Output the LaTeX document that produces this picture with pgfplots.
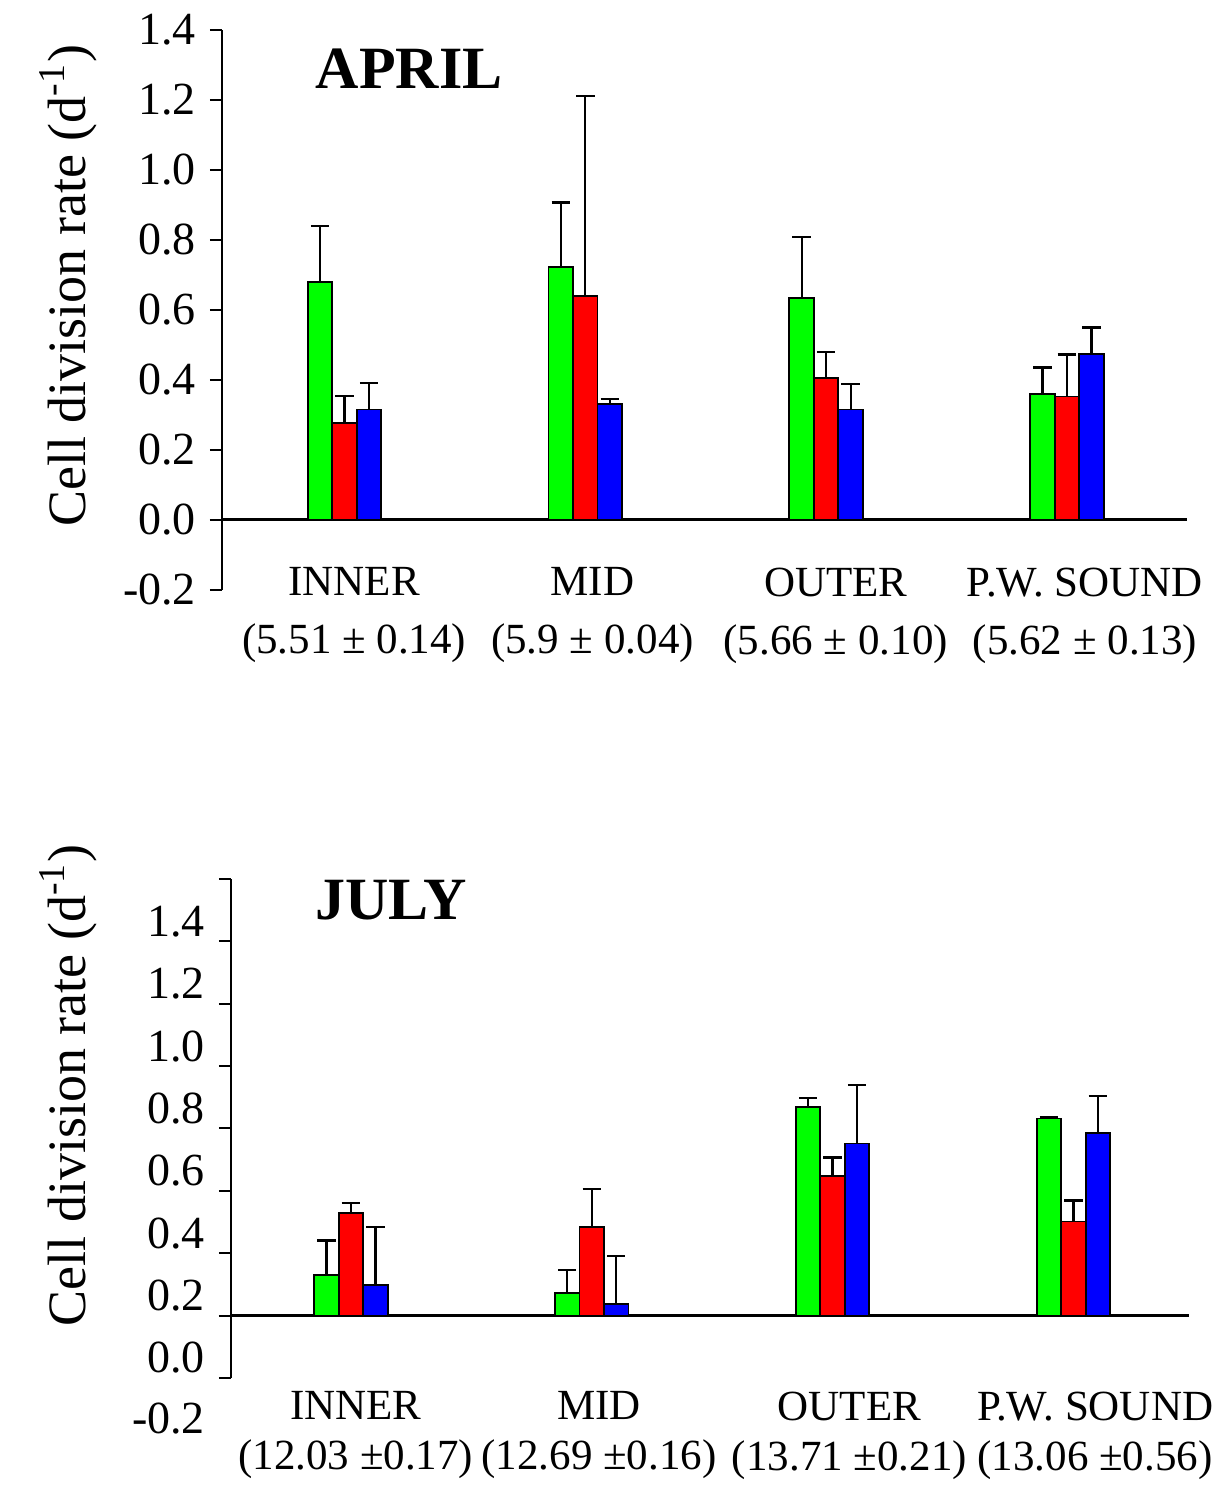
\documentclass[border=0pt]{standalone}
\usepackage{fontspec}
\setmainfont{Liberation Serif}
\usepackage{pgfplots}
\pgfplotsset{compat=1.18}

\definecolor{bgreen}{RGB}{0,255,0}
\definecolor{bred}{RGB}{255,0,0}
\definecolor{bblue}{RGB}{0,0,255}

\newcommand{\tickfont}{\fontsize{11.5bp}{13bp}\selectfont}

\pgfplotsset{
  panel/.style={
    scale only axis, anchor=south west, clip=false,
    axis y line*=left, axis x line*=bottom,
    x axis line style={draw=none},
    y axis line style={line width=0.5bp},
    ybar=0pt, bar width=6.125bp,
    ymin=-0.2, ymax=1.4,
    ytick={-0.2,0,0.2,0.4,0.6,0.8,1.0,1.2,1.4},
    ytick align=outside, major tick length=3bp,
    ytick style={line width=0.5bp, black},
    xtick style={draw=none},
    yticklabel style={font=\tickfont},
    extra y ticks={0}, extra y tick labels={},
    extra y tick style={ymajorgrids=true,
      major grid style={black, line width=0.6bp}},
    ylabel={Cell division rate (d\textsuperscript{-1})},
    every axis plot/.append style={draw=black, line width=0.45bp},
    error bars/y dir=plus, error bars/y explicit,
    error bars/error bar style={line width=0.55bp, black},
    error bars/error mark options={rotate=90, mark size=2.3bp,
      line width=0.55bp, black},
  }
}

\begin{document}
\begin{tikzpicture}
\path[use as bounding box] (0,0) rectangle (306.25bp,371.5bp);

% ---- APRIL ----
\begin{axis}[panel,
  at={(55.5bp,224.08bp)}, width=241.25bp, height=140bp,
  xmin=-0.5087, xmax=3.4987,
  yticklabels={-0.2,0.0,0.2,0.4,0.6,0.8,1.0,1.2,1.4},
  xtick={0.04,1.03,2.04,3.075},
  xticklabels={{INNER\\(5.51 ± 0.14)},{MID\\(5.9 ± 0.04)},
               {OUTER\\(5.66 ± 0.10)},{P.W. SOUND\\(5.62 ± 0.13)}},
  xticklabel style={align=center, anchor=north, yshift=12bp,
    font=\fontsize{10.75bp}{14.5bp}\selectfont},
  ylabel style={at={(axis description cs:-0.1596,0.543)}, anchor=center,
    font=\fontsize{13.5bp}{16bp}\selectfont},
]
\addplot[fill=bgreen] coordinates {
  (0,0.679) +- (0,0.161)
  (1,0.723) +- (0,0.183)
  (2,0.633) +- (0,0.175)
  (3,0.358) +- (0,0.077)};
\addplot[fill=bred] coordinates {
  (0,0.276) +- (0,0.077)
  (1,0.640) +- (0,0.570)
  (2,0.404) +- (0,0.074)
  (3,0.352) +- (0,0.120)};
\addplot[fill=bblue] coordinates {
  (0,0.315) +- (0,0.075)
  (1,0.330) +- (0,0.014)
  (2,0.315) +- (0,0.072)
  (3,0.473) +- (0,0.076)};
\node[font=\bfseries\fontsize{15bp}{18bp}\selectfont]
  at (axis description cs:0.194,0.930) {APRIL};
\end{axis}

% ---- JULY ----
\begin{axis}[panel,
  at={(57.75bp,27bp)}, width=239.5bp, height=124.75bp,
  xmin=-0.498, xmax=3.480,
  yticklabels={0.0,0.2,0.4,0.6,0.8,1.0,1.2,1.4,{}},
  yticklabel style={yshift=5bp},
  xtick={0.02,1.03,2.07,3.09},
  xticklabels={{INNER\\(12.03 ±0.17)},{MID\\(12.69 ±0.16)},
               {OUTER\\(13.71 ±0.21)},{P.W. SOUND\\(13.06 ±0.56)}},
  xticklabel style={align=center, anchor=north, yshift=3.1bp,
    font=\fontsize{10.75bp}{12.5bp}\selectfont},
  ylabel style={at={(axis description cs:-0.170,0.587)}, anchor=center,
    font=\fontsize{13.5bp}{16bp}\selectfont},
]
\addplot[fill=bgreen] coordinates {
  (0,0.130) +- (0,0.111)
  (1,0.072) +- (0,0.075)
  (2,0.670) +- (0,0.027)
  (3,0.632) +- (0,0.004)};
\addplot[fill=bred] coordinates {
  (0,0.328) +- (0,0.032)
  (1,0.285) +- (0,0.121)
  (2,0.448) +- (0,0.059)
  (3,0.302) +- (0,0.067)};
\addplot[fill=bblue] coordinates {
  (0,0.098) +- (0,0.187)
  (1,0.036) +- (0,0.154)
  (2,0.552) +- (0,0.187)
  (3,0.586) +- (0,0.119)};
\node[font=\bfseries\fontsize{15bp}{18bp}\selectfont]
  at (axis description cs:0.167,0.958) {JULY};
\node[anchor=east, font=\tickfont, xshift=-3bp, yshift=-10.25bp]
  at (axis description cs:0,0) {-0.2};
\end{axis}
\end{tikzpicture}
\end{document}
